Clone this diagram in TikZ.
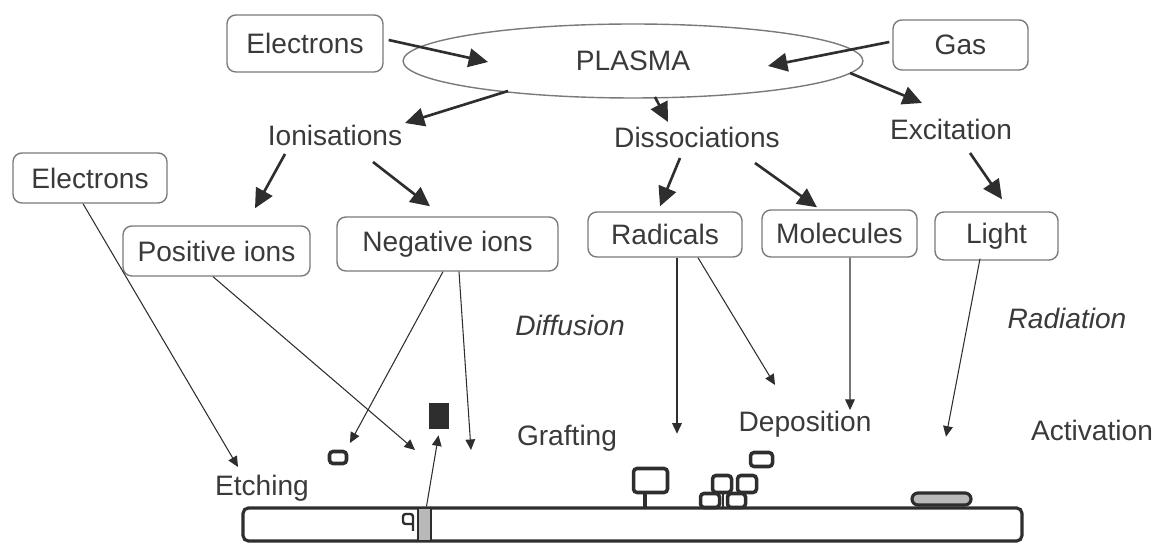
\documentclass[tikz,border=0pt]{standalone}
\usepackage{fontspec}
\setmainfont{Liberation Sans}
\usetikzlibrary{arrows.meta,shapes.geometric,calc}
\definecolor{ink}{HTML}{2E2E2E}
\definecolor{boxc}{HTML}{7A7A7A}
\definecolor{txt}{HTML}{3A3A3A}
\begin{document}
\begin{tikzpicture}[x=0.02cm,y=-0.02cm,
  font=\fontsize{16}{19}\selectfont,
  box/.style={draw=boxc, line width=0.8pt, rounded corners=5pt, text=txt, inner sep=0pt},
  lbl/.style={text=txt, inner sep=0pt},
  big/.style={draw=ink, line width=1.5pt, -{Triangle[length=11pt,width=10.5pt]}},
  thinarr/.style={draw=ink, line width=0.6pt, -{Triangle[length=6pt,width=5.5pt]}},
  solidpart/.style={draw=ink, line width=2pt, rounded corners=2pt}]
\path[use as bounding box] (0,0) rectangle (1156,543);

% top row
\node[box, minimum width=3.12cm, minimum height=1.14cm] (etop) at (305,43.5) {Electrons};
\node[draw=boxc, line width=0.8pt, ellipse, inner sep=0pt, minimum width=9.2cm, minimum height=1.48cm, text=txt] (plasma) at (633,61) {PLASMA};
\node[box, minimum width=2.70cm, minimum height=1.00cm] (gas) at (960.5,45) {Gas};

% process labels
\node[lbl] (ion) at (335,135) {Ionisations};
\node[lbl] (dis) at (697,137) {Dissociations};
\node[lbl] (exc) at (951,129) {Excitation};

% species boxes
\node[box, minimum width=3.08cm, minimum height=1.00cm] (eleft) at (90,178) {Electrons};
\node[box, minimum width=3.74cm, minimum height=1.00cm] (pos) at (216.5,251) {Positive ions};
\node[box, minimum width=4.42cm, minimum height=1.08cm] (neg) at (447.5,244) {Negative ions};
\node[box, minimum width=3.08cm, minimum height=0.90cm] (rad) at (665,234.5) {Radicals};
\node[box, minimum width=3.10cm, minimum height=0.94cm] (mol) at (839.5,233.5) {Molecules};
\node[box, minimum width=2.46cm, minimum height=0.96cm] (light) at (996.5,236) {Light};

% lower labels
\node[lbl, font=\fontsize{16}{19}\selectfont\itshape] (diff) at (570,325) {Diffusion};
\node[lbl, font=\fontsize{16}{19}\selectfont\itshape] (radi) at (1067,318) {Radiation};
\node[lbl] (graftl) at (567,438) {Grafting};
\node[lbl] (depo) at (805,424) {Deposition};
\node[lbl] (activ) at (1092,430) {Activation};
\node[lbl] (etch) at (262,488) {Etching};

% substrate
\node[draw=ink, line width=1.8pt, rounded corners=3pt, minimum width=15.58cm, minimum height=0.66cm, inner sep=0pt] (bar) at (632.5,524.5) {};
\fill[gray!55] (418,509) rectangle (431,540);
\draw[ink, line width=1.2pt] (418,509) -- (418,540) (431,509) -- (431,540);
\draw[ink, line width=1.4pt, rounded corners=1.5pt] (413,531) -- (413,514) -- (403,514) -- (403,524) -- (413,524);

% surface objects
\node[fill=ink, draw=ink, minimum width=0.38cm, minimum height=0.50cm, inner sep=0pt] (gr) at (438.5,415.5) {};
\node[solidpart, minimum width=0.34cm, minimum height=0.24cm, inner sep=0pt] (sq) at (338,457.5) {};
\node[solidpart, minimum width=0.68cm, minimum height=0.48cm, inner sep=0pt] (dbig) at (650.5,480.5) {};
\draw[ink, line width=1.8pt] (645,493) -- (645,508);
\node[solidpart, minimum width=0.38cm, minimum height=0.28cm, inner sep=0pt] (d1) at (710,500.5) {};
\node[solidpart, minimum width=0.36cm, minimum height=0.28cm, inner sep=0pt] (d2) at (736.5,500.5) {};
\node[solidpart, minimum width=0.38cm, minimum height=0.34cm, inner sep=0pt] (d3) at (722,484) {};
\node[solidpart, minimum width=0.38cm, minimum height=0.34cm, inner sep=0pt] (d4) at (747,484) {};
\node[solidpart, minimum width=0.44cm, minimum height=0.28cm, inner sep=0pt] (d5) at (761.5,459.5) {};
\draw[ink, line width=1.2pt] (723,493) -- (723,508);
\node[draw=ink, fill=gray!55, line width=1.8pt, rounded corners=3.4pt, minimum width=1.18cm, minimum height=0.24cm, inner sep=0pt] (pill) at (941.5,499) {};

% thick arrows
\draw[big] ($(etop.east)+(5,-3.5)$) -- ($(plasma)+(-145,1)$);
\draw[big] ($(gas.west)+(-3,-3)$) -- ($(plasma)+(135,5)$);
\draw[big] ($(plasma)+(-125,30)$) -- ($(ion)+(70,-12)$);
\draw[big] ($(plasma)+(22,36)$) -- ($(dis)+(-29,-15)$);
\draw[big] ($(plasma)+(217,12)$) -- ($(exc)+(-29,-26)$);
\draw[big] ($(ion)+(-50,19)$) -- ($(pos.north)+(38.5,-17)$);
\draw[big] ($(ion)+(38,27)$) -- ($(neg.north)+(-17.5,-10)$);
\draw[big] ($(dis)+(-17,21)$) -- ($(rad.north)+(-5,-5)$);
\draw[big] ($(dis)+(58,26)$) -- ($(mol.north)+(-22.5,-2)$);
\draw[big] ($(exc)+(19,24)$) -- ($(light.north)+(5.5,-12)$);

% thin arrows
\draw[thinarr] ($(eleft.south)+(-7,0)$) -- ($(etch)+(-24,-21)$);
\draw[thinarr] ($(pos.south)+(-3.5,0)$) -- ($(gr)+(-23.5,34.5)$);
\draw[thinarr] ($(neg.south)+(-4.5,0)$) -- ($(sq)+(12,-14.5)$);
\draw[thinarr] ($(neg.south)+(11.5,0)$) -- ($(gr)+(32.5,34.5)$);
\draw[thinarr] ($(rad.south)+(12,0)$) -- ($(rad.south)+(12,176)$);
\draw[thinarr] ($(rad.south)+(33,0)$) -- ($(depo)+(-30,-39)$);
\draw[thinarr] ($(mol.south)+(10.5,0)$) -- ($(depo)+(45,-14)$);
\draw[thinarr] ($(light.south)+(-16.5,-2)$) -- ($(light.south)+(-50.5,176)$);
\draw[thinarr] ($(bar.north west)+(185,0)$) -- ($(gr.south)+(0,7)$);
\end{tikzpicture}
\end{document}
